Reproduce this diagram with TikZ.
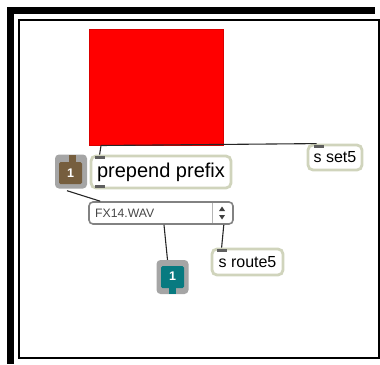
\documentclass[tikz,border=0pt]{standalone}
\usepackage{fontspec}
\setmainfont{Liberation Sans}
\usepackage{tikz}
\usetikzlibrary{positioning}
\definecolor{boxrim}{RGB}{208,212,188}
\definecolor{tabgray}{RGB}{95,95,95}
\definecolor{btngray}{RGB}{165,165,165}
\definecolor{btnbrown}{RGB}{118,94,62}
\definecolor{btnteal}{RGB}{8,122,128}
\definecolor{menurim}{RGB}{130,130,130}

\begin{document}
\begin{tikzpicture}[
x=1pt, y=-1pt,
ObjBox/.style={draw=boxrim,fill=white,line width=2.8pt,rounded corners=5pt,inner sep=0pt,font=\fontsize{16}{16}\selectfont},
TabMark/.style={fill=tabgray,minimum width=10pt,minimum height=3pt,inner sep=0pt},
PatchCord/.style={draw=black!85,line width=1.1pt},
BtnBase/.style={fill=btngray,rounded corners=4pt,minimum width=32pt,minimum height=34pt,inner sep=0pt},
BtnNum/.style={text=white,font=\bfseries\fontsize{12.5}{12.5}\selectfont,inner sep=0pt}
]
\useasboundingbox (0,0) rectangle (380,364);

% window frame
\fill[black] (7,7) rectangle (375,14);
\fill[black] (7,7) rectangle (14,364);
\draw[line width=1.2pt] (19,20) rectangle (379,358);

% the red panel
\node[fill=red,draw=red!85!black,line width=0.5pt,inner sep=0pt,
      minimum width=134pt,minimum height=116pt,anchor=north west] (panel) at (89,29) {};

% objects
\node[ObjBox,minimum width=140pt,minimum height=32pt,font=\fontsize{20}{20}\selectfont] (prepend) at (161,172) {prepend prefix};
\node[ObjBox,minimum width=54pt,minimum height=25pt] (sset) at (335,157.5) {s set5};
\node[ObjBox,minimum width=71pt,minimum height=26pt] (sroute) at (247.5,262) {s route5};

% the menu
\node[draw=menurim,fill=white,line width=1.6pt,rounded corners=4pt,inner sep=0pt,
      minimum width=144pt,minimum height=22pt] (menu) at (161,213) {};
\node[anchor=west,inner sep=0pt,text=black!72,font=\fontsize{12.2}{12}\selectfont] (menutext) at (95,213.5) {FX14.WAV};
\draw[menurim!60,line width=1pt] (212,203) -- (212,223);
\fill[black!75] (219,211) -- (225,211) -- (222,206.5) -- cycle;
\fill[black!75] (219,215) -- (225,215) -- (222,219.5) -- cycle;

% the two buttons
\node[BtnBase] (trigbtn) at (71,171.5) {};
\fill[btnbrown,rounded corners=1.5pt] (59,162) rectangle (82,184);
\fill[btnbrown] (68.5,155) rectangle (75.5,163);
\node[BtnNum] (trignum) at (70.5,173.5) {1};

\node[BtnBase] (tealbtn) at (172.5,277) {};
\fill[btnteal,rounded corners=1.5pt] (161,266) rectangle (184,288);
\fill[btnteal] (169,287) rectangle (176,294);
\node[BtnNum] (tealnum) at (172.5,276.5) {1};

% patch cords
\coordinate (panelout) at ([xshift=12pt]panel.south west);
\draw[PatchCord] (panelout) -- ([xshift=10pt]prepend.north west);
\draw[PatchCord] (panelout) -- ([xshift=10pt]sset.north west);
\draw[PatchCord] ([xshift=-4pt,yshift=-2pt]trigbtn.south) -- ([xshift=12pt]menu.north west);
\draw[PatchCord] ([xshift=3pt]menu.south) -- ([xshift=-5pt]tealbtn.north);
\draw[PatchCord] ([xshift=-10pt]menu.south east) -- ([xshift=11pt]sroute.north west);

% inlets and outlets
\node[TabMark,anchor=north] (prepin) at ([xshift=10pt,yshift=-1pt]prepend.north west) {};
\node[TabMark,anchor=south] (prepout) at ([xshift=10pt,yshift=1pt]prepend.south west) {};
\node[TabMark,anchor=north] (ssetin) at ([xshift=12pt,yshift=-1pt]sset.north west) {};
\node[TabMark,anchor=north] (sroutein) at ([xshift=11pt,yshift=-1pt]sroute.north west) {};
\end{tikzpicture}
\end{document}
